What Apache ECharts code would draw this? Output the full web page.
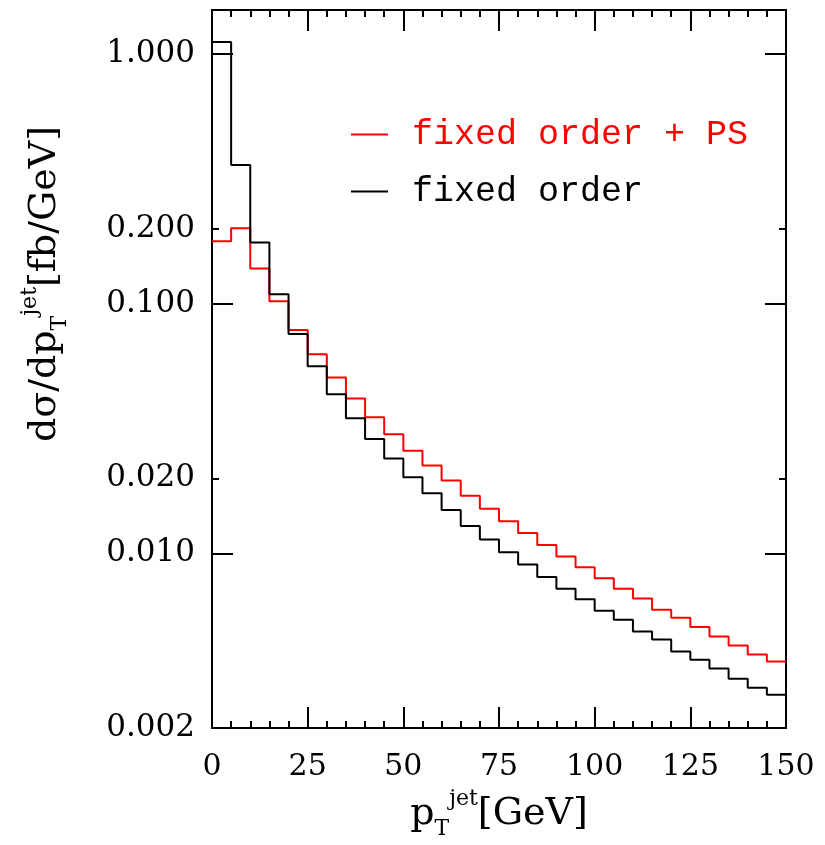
<!DOCTYPE html>
<html><head><meta charset="utf-8">
<script src="https://cdn.jsdelivr.net/npm/echarts@6/dist/echarts.min.js"></script>
<style>html,body{margin:0;padding:0;background:#fff}#c{width:825px;height:845px}</style>
</head><body><div id="c"></div>
<script>
// bin edges of pT^jet [GeV]
const binEdges = [0,5,10,15,20,25,30,35,40,45,50,55,60,65,70,75,80,85,90,95,100,105,110,115,120,125,130,135,140,145,150];
// dsigma/dpT per bin [fb/GeV]
const fixedOrder = [1.116,0.359,0.176,0.109,0.0757,0.0562,0.0434,0.0348,0.0287,0.0240,0.0202,0.0174,0.01491,0.01288,0.01137,0.01012,0.00904,0.00804,0.00722,0.00655,0.00590,0.00542,0.00487,0.00452,0.00405,0.00375,0.00346,0.00315,0.00290,0.00272];
const fixedOrderPS = [0.1779,0.2007,0.1384,0.1023,0.0785,0.0628,0.0506,0.0417,0.0351,0.0300,0.0258,0.0225,0.01957,0.01704,0.01509,0.01347,0.01207,0.01081,0.00973,0.00881,0.00795,0.00722,0.00660,0.00595,0.00553,0.00507,0.00465,0.00428,0.00394,0.00369];
const seriesNames = ['fixed order + PS', 'fixed order'];
const yLabelValues = [0.002, 0.01, 0.02, 0.1, 0.2, 1];
const yMajorTicks = [0.01, 0.1, 1];
const yMinorTicks = [0.002, 0.02, 0.2];
const yRange = [0.002, 1.5];
const xRange = [0, 150];

const L = Math.log10;
const yMin = L(yRange[0]), yMax = L(yRange[1]);
const FONT = 'DejaVu Serif';
function stepData(vals) {
  return binEdges.map((x, i) => [x, L(vals[Math.min(i, vals.length - 1)])]);
}
const axisLineStyle = { color: '#000', width: 2 };
function xAx(pos, showLabel) {
  return {
    type: 'value', position: pos, min: xRange[0], max: xRange[1], interval: 25,
    axisLine: { show: true, onZero: false, lineStyle: axisLineStyle },
    axisTick: { show: true, inside: true, length: 21, lineStyle: { color: '#000', width: 2 } },
    minorTick: { show: true, splitNumber: 5, length: 7, lineStyle: { color: '#000', width: 2 } },
    splitLine: { show: false }, minorSplitLine: { show: false },
    axisLabel: { show: showLabel, margin: 24, fontFamily: FONT, fontSize: 30, color: '#000' },
    name: showLabel ? '{p|p}{s|T}{u|jet}{g|[GeV]}' : '',
    nameLocation: 'middle', nameGap: 60,
    nameTextStyle: {
      fontFamily: FONT, color: '#000',
      rich: {
        p: { fontFamily: FONT, fontSize: 38, lineHeight: 52, color: '#000' },
        s: { fontFamily: FONT, fontSize: 22, lineHeight: 22, verticalAlign: 'bottom', color: '#000' },
        u: { fontFamily: FONT, fontSize: 22, lineHeight: 22, verticalAlign: 'top', color: '#000' },
        g: { fontFamily: FONT, fontSize: 38, lineHeight: 52, color: '#000' }
      }
    }
  };
}
function yAx(pos, ticks, len, labels) {
  return {
    type: 'value', position: pos, min: yMin, max: yMax, offset: 0,
    axisLine: { show: true, onZero: false, lineStyle: axisLineStyle },
    axisTick: { show: true, inside: true, length: len, customValues: ticks.map(L), lineStyle: { color: '#000', width: 2 } },
    splitLine: { show: false },
    axisLabel: labels ? {
      show: true, margin: 17, fontFamily: FONT, fontSize: 31, color: '#000',
      customValues: yLabelValues.map(L),
      formatter: v => Math.pow(10, v).toFixed(3)
    } : { show: false }
  };
}

const chart = echarts.init(document.getElementById('c'), null, { renderer: 'canvas' });
chart.setOption({
  animation: false,
  backgroundColor: '#fff',
  grid: { left: 212, top: 10, width: 574, height: 718, containLabel: false },
  xAxis: [xAx('bottom', true), xAx('top', false)],
  yAxis: [
    yAx('left', yMajorTicks, 21, true),
    yAx('left', yMinorTicks, 7, false),
    yAx('right', yMajorTicks, 21, false),
    yAx('right', yMinorTicks, 7, false)
  ],
  legend: {
    orient: 'vertical', left: 346, top: 112, itemGap: 22,
    icon: 'rect', itemWidth: 37, itemHeight: 2,
    textStyle: { fontFamily: 'Liberation Mono', fontSize: 35, lineHeight: 34, padding: [0, 0, 0, 19] },
    data: [
      { name: seriesNames[0], textStyle: { color: '#ff0000' } },
      { name: seriesNames[1], textStyle: { color: '#000000' } }
    ]
  },
  graphic: [{
    type: 'text', x: 45, y: 284, rotation: Math.PI / 2,
    style: {
      text: '{a|dσ/dp}{s|T}{u|jet}{a|[fb/GeV]}',
      align: 'center', verticalAlign: 'middle', fill: '#000',
      rich: {
        a: { fontFamily: FONT, fontSize: 38, lineHeight: 52, fill: '#000' },
        s: { fontFamily: FONT, fontSize: 22, lineHeight: 22, verticalAlign: 'bottom', fill: '#000' },
        u: { fontFamily: FONT, fontSize: 22, lineHeight: 22, verticalAlign: 'top', fill: '#000' }
      }
    }
  }],
  series: [
    {
      name: seriesNames[0], type: 'line', step: 'end', xAxisIndex: 0, yAxisIndex: 0,
      data: stepData(fixedOrderPS), showSymbol: false, symbol: 'none',
      lineStyle: { color: '#ff0000', width: 2 }, itemStyle: { color: '#ff0000' }, z: 2
    },
    {
      name: seriesNames[1], type: 'line', step: 'end', xAxisIndex: 0, yAxisIndex: 0,
      data: stepData(fixedOrder), showSymbol: false, symbol: 'none',
      lineStyle: { color: '#000000', width: 2 }, itemStyle: { color: '#000000' }, z: 3
    }
  ]
});
</script></body></html>
